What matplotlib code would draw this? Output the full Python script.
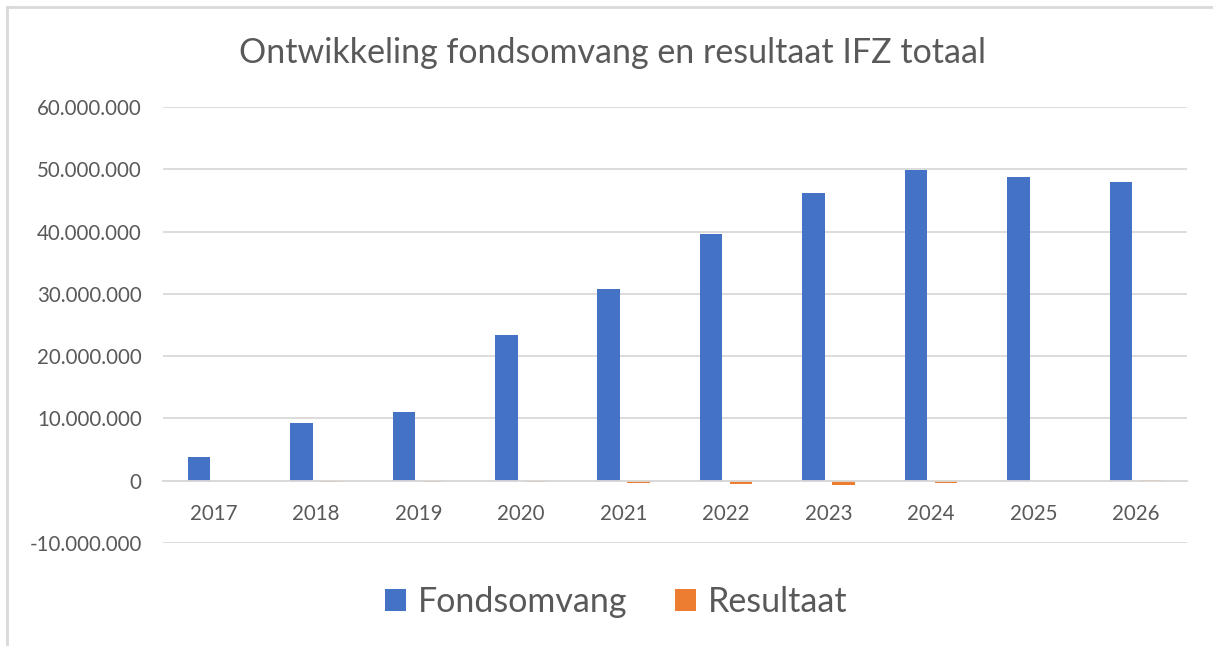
import matplotlib.pyplot as plt
import matplotlib.ticker as mticker
import numpy as np
from matplotlib.lines import Line2D

years = ["2017", "2018", "2019", "2020", "2021", "2022", "2023", "2024", "2025", "2026"]
fondsomvang = [3.85e6, 9.3e6, 11.1e6, 23.4e6, 30.7e6, 39.6e6, 46.2e6, 49.9e6, 48.8e6, 48.0e6]
resultaat = [0, -0.15e6, -0.2e6, -0.15e6, -0.35e6, -0.55e6, -0.75e6, -0.35e6, 0, 0.05e6]

blue = "#4472c4"
orange = "#ed7d31"
grey_text = "#595959"
grid_col = "#d9d9d9"

plt.rcParams['font.family'] = ['Lato', 'DejaVu Sans']

fig = plt.figure(figsize=(12.13, 6.46), dpi=100)
ax = fig.add_axes([0.134, 0.1594, 0.8446, 0.675])

x = np.arange(len(years))
w = 0.22
ax.bar(x - 0.145, fondsomvang, w, color=blue, label="Fondsomvang", zorder=3)
ax.bar(x + 0.145, resultaat, w, color=orange, label="Resultaat", zorder=3)

ax.set_xlim(-0.5, len(years) - 0.5)
ax.set_ylim(-10e6, 60e6)
ax.yaxis.set_major_locator(mticker.MultipleLocator(10e6))
ax.yaxis.set_major_formatter(mticker.FuncFormatter(
    lambda v, p: f"{int(round(v)):,}".replace(",", ".")))
ax.grid(axis="y", color=grid_col, linewidth=1.3, zorder=0)

for s in ["top", "right", "left"]:
    ax.spines[s].set_visible(False)
ax.spines["bottom"].set_position(("data", 0))
ax.spines["bottom"].set_color(grid_col)
ax.spines["bottom"].set_linewidth(1.3)
ax.spines["bottom"].set_zorder(4)

ax.set_xticks(x)
ax.set_xticklabels(years)
ax.tick_params(axis="x", length=0, pad=17, labelsize=14.8, labelcolor=grey_text)
ax.tick_params(axis="y", length=0, pad=15, labelsize=14.8, labelcolor=grey_text)

fig.text(0.505, 0.918, "Ontwikkeling fondsomvang en resultaat IFZ totaal",
         ha="center", va="center", fontsize=24.5, color=grey_text)

ax.legend(loc="center", bbox_to_anchor=(0.443, -0.135), ncol=2, frameon=False,
          fontsize=24.5, labelcolor=grey_text, handlelength=0.62, handleheight=0.62,
          handletextpad=0.35, columnspacing=1.4)

fig.add_artist(Line2D([0.0058, 1.0], [0.989, 0.989], transform=fig.transFigure,
                      color=grid_col, linewidth=2))
fig.add_artist(Line2D([0.0058, 0.0058], [0.0, 0.989], transform=fig.transFigure,
                      color=grid_col, linewidth=2))

fig.savefig("out.png", dpi=100)
